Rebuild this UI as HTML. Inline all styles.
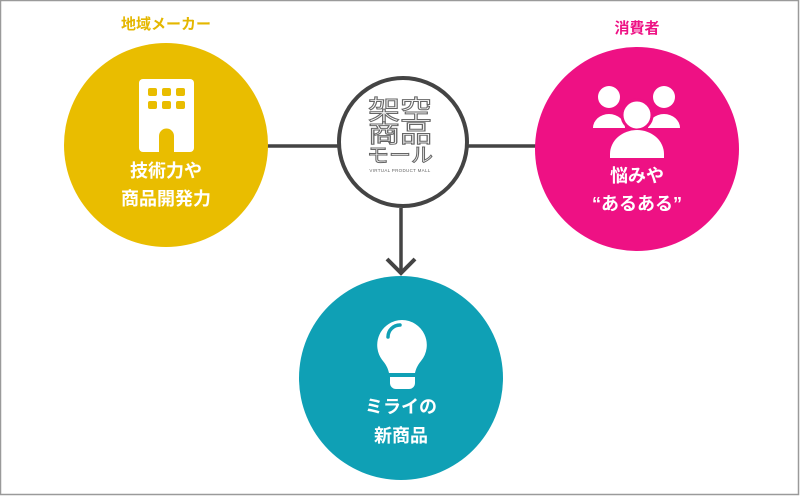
<!DOCTYPE html>
<html><head><meta charset="utf-8"><style>
html,body{margin:0;padding:0;background:#fff;}
svg{display:block;}
text{font-family:"Liberation Sans","Noto Sans CJK JP",sans-serif;}
</style></head><body>
<svg width="800" height="496" viewBox="0 0 800 496" xmlns="http://www.w3.org/2000/svg">
<rect x="0.5" y="0.5" width="798" height="494" fill="#fff" stroke="#9a9a9a" stroke-width="1.5"/>
<line x1="266" y1="146" x2="338" y2="146" stroke="#444" stroke-width="3.5"/>
<line x1="468" y1="146" x2="537" y2="146" stroke="#444" stroke-width="3.5"/>
<line x1="401" y1="208" x2="401" y2="272" stroke="#444" stroke-width="3.5"/>
<polyline points="387,259 401,273 415,259" fill="none" stroke="#444" stroke-width="4"/>
<circle cx="166" cy="145" r="102" fill="#e9bd00"/>
<text x="166" y="29" text-anchor="middle" font-size="15" font-weight="bold" fill="#e4b700">地域メーカー</text>
<rect x="139" y="79" width="55" height="73" rx="4" fill="#fff"/>
<g fill="#e9bd00">
<rect x="148" y="88" width="9" height="8" rx="2"/><rect x="162" y="88" width="9" height="8" rx="2"/><rect x="176" y="88" width="9" height="8" rx="2"/>
<rect x="148" y="101" width="9" height="8" rx="2"/><rect x="162" y="101" width="9" height="8" rx="2"/><rect x="176" y="101" width="9" height="8" rx="2"/>
<path d="M159,153 V136 a7.5,7.5 0 0 1 15,0 V153 Z"/>
</g>
<text x="166" y="177" text-anchor="middle" font-size="18" font-weight="bold" fill="#fff">技術力や</text>
<text x="166" y="205" text-anchor="middle" font-size="18" font-weight="bold" fill="#fff">商品開発力</text>
<circle cx="637" cy="149" r="102" fill="#ee1184"/>
<text x="637" y="33" text-anchor="middle" font-size="15" font-weight="bold" fill="#ee1184">消費者</text>
<g fill="#fff">
<circle cx="609" cy="97" r="11"/><circle cx="664" cy="97" r="11"/>
<path d="M593,128 a16,14 0 0 1 32,0 Z"/><path d="M648,128 a16,14 0 0 1 32,0 Z"/>
<circle cx="637" cy="115" r="15" stroke="#ee1184" stroke-width="3"/>
<path d="M610,158 V154 a27,24 0 0 1 54,0 V158 Z"/>
</g>
<text x="637" y="182" text-anchor="middle" font-size="18" font-weight="bold" fill="#fff">悩みや</text>
<text x="637" y="210" text-anchor="middle" font-size="18" font-weight="bold" fill="#fff">“あるある”</text>
<circle cx="401" cy="378" r="102" fill="#0fa0b5"/>
<g fill="#fff">
<path d="M402,320 a25,25 0 0 1 19,41 c-4,5 -5,8 -6,12 h-26 c-1,-4 -2,-7 -6,-12 a25,25 0 0 1 19,-41 Z"/>
<path d="M390,377 h25 v6 a6,6 0 0 1 -6,6 h-13 a6,6 0 0 1 -6,-6 Z"/>
</g>
<path d="M388,337 a12,12 0 0 1 12,-12" fill="none" stroke="#0fa0b5" stroke-width="3.5" stroke-linecap="round"/>
<text x="401" y="413" text-anchor="middle" font-size="18" font-weight="bold" fill="#fff">ミライの</text>
<text x="401" y="442" text-anchor="middle" font-size="18" font-weight="bold" fill="#fff">新商品</text>
<circle cx="403" cy="142" r="64" fill="#fff" stroke="#444" stroke-width="4"/>
<g fill="#fff" stroke="#666" stroke-width="1" text-anchor="middle">
<text x="400" y="120" font-size="27" textLength="64" lengthAdjust="spacingAndGlyphs">架空</text>
<text x="400" y="142" font-size="24" textLength="64" lengthAdjust="spacingAndGlyphs">商品</text>
<text x="400" y="162" font-size="20" textLength="66" lengthAdjust="spacingAndGlyphs">モール</text>
</g>
<text x="400" y="172" text-anchor="middle" font-size="4.5" fill="#666" letter-spacing="0.3">VIRTUAL PRODUCT MALL</text>
</svg>
</body></html>
